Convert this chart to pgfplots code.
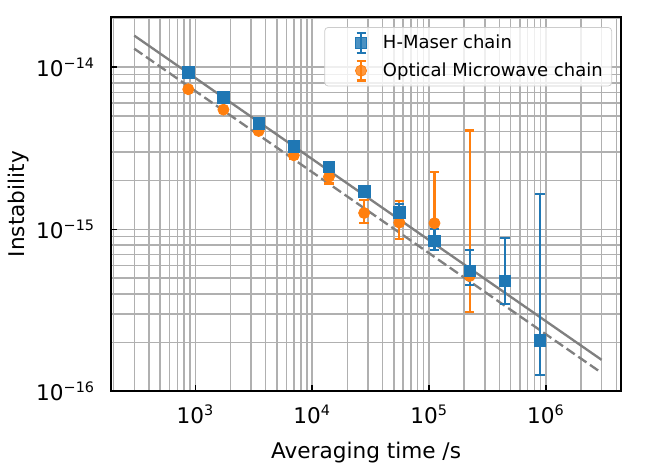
\documentclass[border=0pt]{standalone}
\usepackage{fontspec}
\setmainfont{DejaVu Sans}
\usepackage{pgfplots}
\usepackage{pgfplotstable}
\pgfplotsset{compat=1.18}
\definecolor{mblue}{HTML}{1F77B4}
\definecolor{morange}{HTML}{FF7F0E}
\definecolor{mgrid}{HTML}{B0B0B0}
\definecolor{mfit}{HTML}{808080}

\pgfplotsset{
  blueerr/.style={error bars/draw error bar/.code 2 args={\draw[mblue, line width=1.3pt, solid] ##1 -- ##2 ++(-2.6pt,0pt) -- ++(5.2pt,0pt);}},
  orangeerr/.style={error bars/draw error bar/.code 2 args={\draw[morange, line width=1.3pt, solid] ##1 -- ##2 ++(-2.6pt,0pt) -- ++(5.2pt,0pt);}},
}

\pgfplotstableread{
x y ep em
870 9.31e-15 1.5e-16 1.5e-16
1740 6.49e-15 1.0e-16 1.0e-16
3480 4.49e-15 8e-17 8e-17
6960 3.25e-15 7e-17 7e-17
13920 2.42e-15 6e-17 6e-17
27840 1.71e-15 6e-17 6e-17
55680 1.27e-15 1.6e-16 1.1e-16
111360 8.47e-16 1.53e-16 1.02e-16
222720 5.55e-16 1.93e-16 1.02e-16
445440 4.80e-16 4.04e-16 1.34e-16
890880 2.07e-16 1.443e-15 8.1e-17
}\maser

\pgfplotstableread{
x y ep em
870 7.31e-15 1.0e-16 1.0e-16
1740 5.47e-15 1.0e-16 1.0e-16
3480 4.04e-15 1.0e-16 1.0e-16
6960 2.86e-15 1.5e-16 1.5e-16
13920 2.11e-15 3.0e-16 1.9e-16
27840 1.26e-15 2.6e-16 1.7e-16
55680 1.10e-15 4.0e-16 2.25e-16
111360 1.09e-15 1.16e-15 2.3e-16
222720 5.15e-16 3.545e-15 2.05e-16
}\optical

\begin{document}
\begin{tikzpicture}
\begin{axis}[
  scale only axis, width=283.3pt, height=208pt,
  xmode=log, ymode=log,
  xmin=190, xmax=4.4e6, ymin=1e-16, ymax=2.04e-14,
  axis line style={line width=1.1pt, black},
  grid=both,
  major grid style={line width=0.8pt, mgrid},
  minor grid style={line width=0.8pt, mgrid},
  tick align=inside, major tick length=3.5pt, minor tick length=0pt,
  tick style={black, line width=0.8pt},
  xtick pos=left, ytick pos=left,
  xtick={1e3,1e4,1e5,1e6},
  xticklabels={10\textsuperscript{3},10\textsuperscript{4},10\textsuperscript{5},10\textsuperscript{6}},
  minor xtick={200,300,400,500,600,700,800,900,2000,3000,4000,5000,6000,7000,8000,9000,20000,30000,40000,50000,60000,70000,80000,90000,2e5,3e5,4e5,5e5,6e5,7e5,8e5,9e5,2e6,3e6,4e6},
  ytick={1e-16,1e-15,1e-14},
  yticklabels={10\textsuperscript{−16},10\textsuperscript{−15},10\textsuperscript{−14}},
  minor ytick={2e-16,3e-16,4e-16,5e-16,6e-16,7e-16,8e-16,9e-16,2e-15,3e-15,4e-15,5e-15,6e-15,7e-15,8e-15,9e-15,2e-14},
  tick label style={font=\fontsize{12}{14}\selectfont},
  yticklabel style={xshift=-5.4pt},
  xticklabel style={yshift=-4pt},
  every axis x label/.style={at={(axis description cs:0.5,0)}, anchor=base, yshift=-37pt, font=\fontsize{12}{14}\selectfont},
  every axis y label/.style={at={([xshift=-42pt]axis description cs:0,0.5)}, rotate=90, anchor=south, font=\fontsize{12}{14}\selectfont},
  xlabel={Averaging time /s},
  ylabel={Instability},
  legend style={at={(1,1)}, anchor=north east, xshift=-5pt, yshift=-5.6pt,
    draw=black!20, rounded corners=2pt, fill=white, fill opacity=0.8, text opacity=1,
    font=\fontsize{10}{12}\selectfont, inner xsep=3pt, inner ysep=2pt, row sep=2.4pt},
  legend cell align=left,
]
\addlegendimage{legend image code/.code={
  \draw[mblue, line width=1.3pt] (10pt,-5.5pt) -- (10pt,5.5pt) (7.5pt,-5.5pt) -- (12.5pt,-5.5pt) (7.5pt,5.5pt) -- (12.5pt,5.5pt);
  \path[mblue] plot[mark=square*, mark size=3.2pt, only marks] coordinates {(10pt,0pt)};
  \path (-7pt,0pt) (20pt,0pt);
}}
\addlegendentry{H-Maser chain}
\addlegendimage{legend image code/.code={
  \draw[morange, line width=1.3pt] (10pt,-5.5pt) -- (10pt,5.5pt) (7.5pt,-5.5pt) -- (12.5pt,-5.5pt) (7.5pt,5.5pt) -- (12.5pt,5.5pt);
  \path[morange] plot[mark=*, mark size=3.1pt, only marks] coordinates {(10pt,0pt)};
  \path (-7pt,0pt) (20pt,0pt);
}}
\addlegendentry{Optical Microwave chain}

\addplot[mfit, line width=1.3pt, forget plot] coordinates {(300,1.565e-14) (3e6,1.565e-16)};
\addplot[mfit, line width=1.3pt, dash pattern=on 5.5pt off 2.4pt, forget plot] coordinates {(300,1.30e-14) (3e6,1.30e-16)};

\addplot[only marks, morange, mark=*, mark size=3.1pt, forget plot, orangeerr,
  error bars/.cd, y dir=both, y explicit]
  table[x=x, y=y, y error plus=ep, y error minus=em] {\optical};

\addplot[only marks, mblue, mark=square*, mark size=3.2pt, forget plot, blueerr,
  error bars/.cd, y dir=both, y explicit]
  table[x=x, y=y, y error plus=ep, y error minus=em] {\maser};

\coordinate (bl) at (rel axis cs:0,0);
\coordinate (tr) at (rel axis cs:1,1);
\end{axis}
\pgfresetboundingbox
\path ([xshift=-61.7pt,yshift=-42pt]bl) rectangle ([xshift=18.3pt,yshift=9.4pt]tr);
\end{tikzpicture}
\end{document}
